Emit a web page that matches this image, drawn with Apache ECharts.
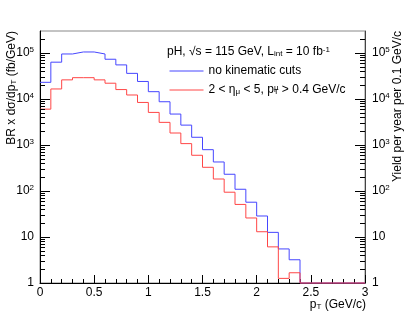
<!DOCTYPE html>
<html><head><meta charset="utf-8">
<script src="https://cdn.jsdelivr.net/npm/echarts@6/dist/echarts.min.js"></script>
<style>html,body{margin:0;padding:0;background:#fff}#c{width:407px;height:315px}</style>
</head><body><div id="c"></div>
<script>
// ---- data ----
const ptBinLow = [0.0,0.1,0.2,0.3,0.4,0.5,0.6,0.7,0.8,0.9,1.0,1.1,1.2,1.3,1.4,1.5,1.6,1.7,1.8,1.9,2.0,2.1,2.2,2.3,2.4,2.5,2.6,2.7,2.8,2.9];
const noCuts = [23000,63000,95000,105000,105000,95000,73000,55000,36000,24000,14400,8700,4700,2700,1470,790,427,231,109,57,28.6,12.6,5.5,3.2,0,0,0,0,0,0];
const withCuts = [6000,16500,26000,29000,29000,26000,22000,16000,12200,8400,5100,3100,1820,1070,597,327,182,94,51,25.9,13,6.1,1.26,1.67,0,0,0,0,0,0];
const xTickLabels = ['0','0.5','1','1.5','2','2.5','3'];
const yTickLabels = ['1','10','10^2','10^3','10^4','10^5'];
const seriesNames = ['no kinematic cuts','with cuts'];
const legendTexts = ['no kinematic cuts','2 < η{sub|μ} < 5, p{subw|T}{sup|μ} > 0.4 GeV/c'];
const headerText = 'pH, √s = 115 GeV, L{sub|int} = 10 fb{sup|-1}';
const xTitle = 'p{sub|T} (GeV/c)';
const yTitleLeft = 'BR x dσ/dp{sub|T} (fb/GeV)';
const yTitleRight = 'Yield per year per 0.1 GeV/c';

const FONT = 'Liberation Sans, Arial, Helvetica, sans-serif';
const Y_MIN = 1, Y_MAX = 3e5, X_MIN = 0, X_MAX = 3;
const BLUE = '#4646ff', RED = '#ff4646';

const rich = {
  b: {fontSize: 12, fontFamily: FONT, color: '#000', lineHeight: 14},
  s: {fontSize: 8, fontFamily: FONT, color: '#000', lineHeight: 8, verticalAlign: 'top'},
  sup: {fontSize: 8, fontFamily: FONT, color: '#000', lineHeight: 8, verticalAlign: 'top'},
  sub: {fontSize: 8, fontFamily: FONT, color: '#000', lineHeight: 8, verticalAlign: 'bottom'},
  subw: {fontSize: 8, fontFamily: FONT, color: '#000', lineHeight: 8, verticalAlign: 'bottom', width: 0.1}
};

function yLabel(v) {
  const idx = Math.round(Math.log10(v));
  if (Math.abs(Math.log10(v) - idx) > 1e-6 || idx < 0 || idx >= yTickLabels.length) return '';
  const t = yTickLabels[idx];
  if (t.indexOf('^') >= 0) { const p = t.split('^'); return '{b|' + p[0] + '}{s|' + p[1] + '}'; }
  return '{b|' + t + '}';
}
function xLabel(v) {
  const i = Math.round(v / 0.5);
  return Math.abs(v - i * 0.5) < 1e-6 ? (xTickLabels[i] || '') : '';
}
function stepData(vals) {
  const w = ptBinLow[1] - ptBinLow[0];
  const d = ptBinLow.map((x, i) => [x, Math.max(vals[i], Y_MIN)]);
  d.push([ptBinLow[ptBinLow.length - 1] + w, Math.max(vals[vals.length - 1], Y_MIN)]);
  return d;
}
const minorVals = [];
for (let e = 0; e <= 5; e++) for (let m = 2; m <= 9; m++) { const v = m * Math.pow(10, e); if (v < Y_MAX) minorVals.push([X_MIN, v]); }

const chart = echarts.init(document.getElementById('c'), null, {renderer: 'canvas'});
const yAxisCommon = {
  type: 'log', logBase: 10, min: Y_MIN, max: Y_MAX,
  axisTick: {show: true, inside: true, length: 10, lineStyle: {color: '#000', width: 1}},
  minorTick: {show: false}, splitLine: {show: false},
  axisLabel: {formatter: yLabel, rich: rich, showMaxLabel: false, margin: 6}
};
const legendCommon = {orient: 'vertical', left: 169, itemWidth: 34, itemHeight: 14, padding: 0, itemGap: 0,
  selectedMode: false, itemStyle: {opacity: 0}, lineStyle: {width: 1}};
chart.setOption({
  animation: false,
  textStyle: {fontFamily: FONT},
  grid: {left: 40, right: 42, top: 31, bottom: 32, show: true, borderColor: '#888', borderWidth: 1, backgroundColor: 'transparent'},
  xAxis: {
    type: 'value', min: X_MIN, max: X_MAX, interval: 0.5,
    axisLine: {show: true, onZero: false, lineStyle: {color: '#000', width: 1}},
    axisTick: {show: true, inside: true, length: 8, lineStyle: {color: '#000'}},
    minorTick: {show: true, splitNumber: 5, length: 4, lineStyle: {color: '#000'}},
    splitLine: {show: false},
    axisLabel: {formatter: xLabel, fontSize: 12, color: '#000', margin: 4, fontFamily: FONT}
  },
  yAxis: [
    Object.assign({}, yAxisCommon, {position: 'left', axisLine: {show: true, lineStyle: {color: '#000', width: 1}}}),
    Object.assign({}, yAxisCommon, {position: 'right', axisLine: {show: true, lineStyle: {color: '#444', width: 1}},
      axisLabel: Object.assign({}, yAxisCommon.axisLabel, {margin: 7})})
  ],
  legend: [
    Object.assign({}, legendCommon, {data: [seriesNames[0]], top: 65, formatter: () => legendTexts[0],
      textStyle: {fontSize: 12, color: '#000', fontFamily: FONT, rich: rich}}),
    Object.assign({}, legendCommon, {data: [seriesNames[1]], top: 84, formatter: () => legendTexts[1],
      textStyle: {fontSize: 12, color: '#000', fontFamily: FONT, rich: rich}})
  ],
  graphic: [
    {type: 'text', left: 167, top: 46, style: {text: headerText, rich: rich, font: '12px ' + FONT, fill: '#000'}},
    {type: 'text', x: 366, y: 305, style: {text: xTitle, rich: rich, align: 'right', verticalAlign: 'middle', font: '12px ' + FONT, fill: '#000'}},
    {type: 'text', x: 12, y: 31, rotation: Math.PI / 2, style: {text: yTitleLeft, rich: rich, align: 'right', verticalAlign: 'middle', font: '12px ' + FONT, fill: '#000'}},
    {type: 'text', x: 398, y: 31, rotation: Math.PI / 2, style: {text: yTitleRight, rich: rich, align: 'right', verticalAlign: 'middle', font: '12px ' + FONT, fill: '#000'}}
  ],
  series: [
    {name: seriesNames[0], type: 'line', step: 'end', symbol: 'none', clip: false, data: stepData(noCuts),
     lineStyle: {color: BLUE, width: 1}, itemStyle: {color: BLUE}, z: 3},
    {name: seriesNames[1], type: 'line', step: 'end', symbol: 'none', clip: false, data: stepData(withCuts),
     lineStyle: {color: RED, width: 1}, itemStyle: {color: RED}, z: 4},
    {type: 'custom', silent: true, data: minorVals, z: 5, clip: false,
     renderItem: function (params, api) {
       const v = api.value(1);
       const l = api.coord([X_MIN, v]);
       const r = api.coord([X_MAX, v]);
       const y = Math.round(l[1]) + 0.5;
       return {type: 'group', children: [
         {type: 'line', shape: {x1: l[0], y1: y, x2: l[0] + 5, y2: y}, style: {stroke: '#000', lineWidth: 1}},
         {type: 'line', shape: {x1: r[0] - 5, y1: y, x2: r[0], y2: y}, style: {stroke: '#000', lineWidth: 1}}
       ]};
     }}
  ]
});
</script></body></html>
